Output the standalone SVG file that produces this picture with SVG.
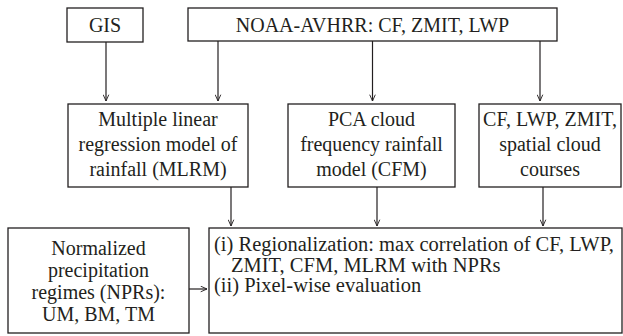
<svg xmlns="http://www.w3.org/2000/svg" width="623" height="336" viewBox="0 0 623 336">
<defs>
<marker id="ah" viewBox="0 0 10 10" refX="10" refY="5" markerWidth="7" markerHeight="7" markerUnits="userSpaceOnUse" orient="auto">
<path d="M1,1 L10,5 L1,9" fill="none" stroke="#231f20" stroke-width="1.3"/>
</marker>
</defs>
<rect width="623" height="336" fill="#fff"/>
<g id="connectors" stroke="#231f20" stroke-width="1.2" fill="none" marker-end="url(#ah)">
<line x1="106" y1="42" x2="106" y2="101"/>
<line x1="218" y1="41" x2="218" y2="101"/>
<line x1="372.5" y1="41" x2="372.5" y2="101"/>
<line x1="540" y1="41" x2="540" y2="101"/>
<line x1="231" y1="187" x2="231" y2="226"/>
<line x1="377" y1="187" x2="377" y2="226"/>
<line x1="543" y1="187" x2="543" y2="226"/>
<line x1="189" y1="289" x2="207" y2="289"/>
</g>
<g fill="#fff" stroke="#231f20" stroke-width="1.3">
<rect id="gis-box" x="67" y="8" width="76" height="34"/>
<rect id="noaa-box" x="188" y="8" width="369" height="33"/>
<rect id="mlrm-box" x="68" y="104" width="180" height="83"/>
<rect id="cfm-box" x="288" y="104" width="167" height="83"/>
<rect id="spatial-box" x="479" y="104" width="142" height="83"/>
<rect id="npr-box" x="8" y="228" width="181" height="105"/>
<rect id="eval-box" x="209" y="228" width="413" height="105"/>
</g>
<g id="gis" font-family="Liberation Serif, serif" font-size="20" fill="#231f20" text-anchor="middle">
<text x="105" y="32">GIS</text>
</g>
<g id="noaa" font-family="Liberation Serif, serif" font-size="20" fill="#231f20" text-anchor="middle">
<text x="372.5" y="32">NOAA-AVHRR: CF, ZMIT, LWP</text>
</g>
<g id="mlrm" font-family="Liberation Serif, serif" font-size="20" fill="#231f20" text-anchor="middle">
<text x="158" y="126">Multiple linear</text>
<text x="158" y="151">regression model of</text>
<text x="158" y="176">rainfall (MLRM)</text>
</g>
<g id="cfm" font-family="Liberation Serif, serif" font-size="20" fill="#231f20" text-anchor="middle">
<text x="371.5" y="126">PCA cloud</text>
<text x="371.5" y="151">frequency rainfall</text>
<text x="371.5" y="176">model (CFM)</text>
</g>
<g id="spatial" font-family="Liberation Serif, serif" font-size="20" fill="#231f20" text-anchor="middle">
<text x="550" y="126">CF, LWP, ZMIT,</text>
<text x="550" y="151">spatial cloud</text>
<text x="550" y="176">courses</text>
</g>
<g id="npr" font-family="Liberation Serif, serif" font-size="20" fill="#231f20" text-anchor="middle">
<text x="98.5" y="255">Normalized</text>
<text x="98.5" y="277">precipitation</text>
<text x="98.5" y="299">regimes (NPRs):</text>
<text x="98.5" y="321">UM, BM, TM</text>
</g>
<g id="eval" font-family="Liberation Serif, serif" font-size="20.5" fill="#231f20">
<text x="214" y="251">(i) Regionalization: max correlation of CF, LWP,</text>
<text x="231" y="272">ZMIT, CFM, MLRM with NPRs</text>
<text x="214" y="292">(ii) Pixel-wise evaluation</text>
</g>
</svg>
